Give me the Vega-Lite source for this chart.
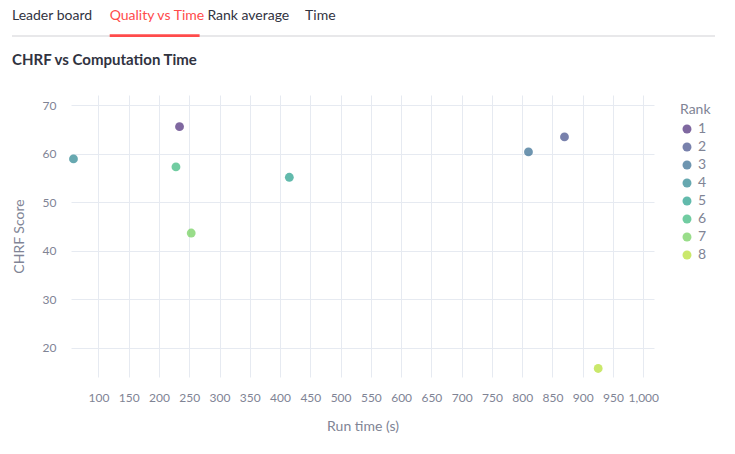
{
  "$schema": "https://vega.github.io/schema/vega-lite/v6.json",
  "padding": {"left": 10, "top": 0, "right": 0, "bottom": 0},
  "spacing": 15,
  "background": "white",
  "resolve": {"legend": {"color": "independent"}, "scale": {"color": "independent"}},
  "vconcat": [
    {
      "width": 644,
      "height": 36,
      "data": {"values": [
        {"tab": "Leader board", "order": 0, "active": false},
        {"tab": "Quality vs Time", "order": 1, "active": true},
        {"tab": "Rank average", "order": 2, "active": false},
        {"tab": "Time", "order": 3, "active": false}
      ]},
      "layer": [
        {
          "mark": {"type": "rule", "color": "#e8e8ea", "strokeWidth": 2},
          "encoding": {
            "x": {"datum": 0, "type": "quantitative", "scale": {"domain": [0.6039, 7.1954], "nice": false, "zero": false}, "axis": null},
            "x2": {"datum": 7.1954},
            "y": {"datum": 0, "type": "quantitative", "scale": {"domain": [0, 1]}, "axis": null}
          }
        },
        {
          "mark": {"type": "text", "align": "left", "baseline": "middle", "fontSize": 14, "font": "Lato"},
          "encoding": {
            "text": {"field": "tab"},
            "x": {"field": "order", "type": "quantitative", "axis": null},
            "y": {"datum": 0.55, "type": "quantitative", "axis": null},
            "color": {"condition": {"test": "datum.active", "value": "#ff4b4b"}, "value": "#31333f"}
          }
        },
        {
          "transform": [{"filter": "datum.active"}, {"calculate": "datum.order + 0.92", "as": "order_end"}],
          "mark": {"type": "rect", "color": "#ff4b4b"},
          "encoding": {
            "x": {"field": "order", "type": "quantitative", "axis": null},
            "x2": {"field": "order_end"},
            "y": {"datum": -0.03, "type": "quantitative", "axis": null},
            "y2": {"datum": 0.05}
          }
        }
      ]
    },
    {
      "width": 583,
      "height": 282,
      "title": {"text": "CHRF vs Computation Time", "anchor": "start", "frame": "bounds", "fontSize": 15, "fontWeight": "bold", "color": "#31333f", "offset": 27},
      "data": {"values": [
        {"rank": 1, "time": 233.9, "chrf": 65.56},
        {"rank": 2, "time": 869.9, "chrf": 63.44},
        {"rank": 3, "time": 810.4, "chrf": 60.34},
        {"rank": 4, "time": 58.7, "chrf": 58.9},
        {"rank": 5, "time": 415.3, "chrf": 55.12},
        {"rank": 6, "time": 228.0, "chrf": 57.25},
        {"rank": 7, "time": 253.2, "chrf": 43.63},
        {"rank": 8, "time": 925.6, "chrf": 15.71}
      ]},
      "mark": {"type": "circle", "size": 78, "opacity": 0.7},
      "encoding": {
        "x": {"field": "time", "type": "quantitative", "title": "Run time (s)",
              "scale": {"domain": [54.6, 1017.8], "nice": false, "zero": false}},
        "y": {"field": "chrf", "type": "quantitative", "title": "CHRF Score",
              "scale": {"domain": [13.95, 72.08], "nice": false, "zero": false}},
        "color": {"field": "rank", "type": "ordinal", "title": "Rank", "scale": {"scheme": "viridis"}}
      }
    }
  ],
  "config": {
    "font": "Lato",
    "view": {"stroke": null},
    "axis": {
      "domain": false, "ticks": false, "gridColor": "#e6eaf1",
      "labelColor": "#808495", "titleColor": "#808495",
      "labelFontSize": 12, "titleFontSize": 14, "titleFontWeight": "normal",
      "labelPadding": 15, "titlePadding": 16
    },
    "legend": {
      "titleColor": "#808495", "labelColor": "#808495",
      "titleFontSize": 14, "titleFontWeight": "normal", "labelFontSize": 14,
      "symbolSize": 80, "rowPadding": 4, "offset": 18, "padding": 8
    }
  }
}
